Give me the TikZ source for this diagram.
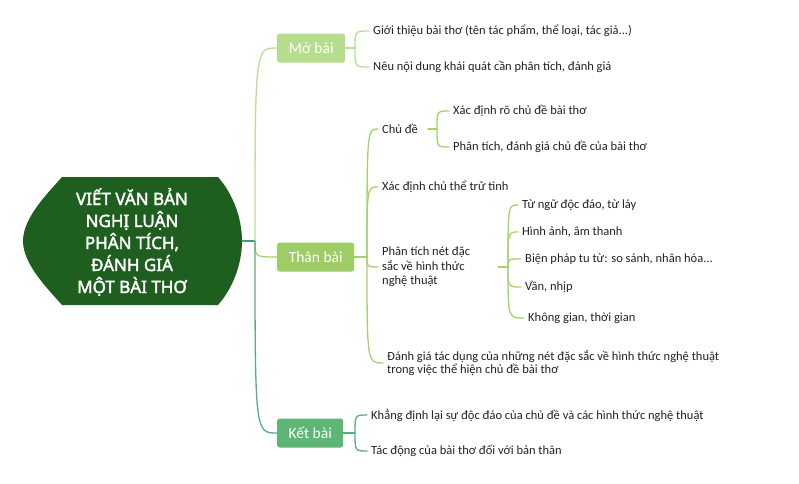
\documentclass[tikz,border=0pt]{standalone}
\usepackage{fontspec}
\setmainfont{Carlito}
\newfontfamily\rootfont[AutoFakeBold=2.2]{Noto Sans}
\definecolor{rootc}{HTML}{1E5E1E}
\definecolor{moc}{HTML}{B5DD8C}
\definecolor{thanc}{HTML}{9ECD66}
\definecolor{ketc}{HTML}{5DB675}
\definecolor{mol}{HTML}{B9DF92}
\definecolor{thanl}{HTML}{A6D26E}
\definecolor{ketl}{HTML}{5AAE78}
\definecolor{stemc}{HTML}{3E9B8A}
\definecolor{txt}{HTML}{222222}
\begin{document}
\begin{tikzpicture}[x=1pt,y=-1pt,
  leaf/.style={font=\fontsize{12.5}{14.5}\selectfont, anchor=west, inner xsep=4pt, inner ysep=1pt, align=left, text=txt},
  boxn/.style={rounded corners=2.5pt, text=white, font=\fontsize{15.5}{18}\selectfont, minimum height=29pt, anchor=west, inner sep=0pt},
  conn/.style={line width=1.3pt, line cap=round}]
\useasboundingbox (0,0) rectangle (799,483);
\fill[white] (0,0) rectangle (799,483);
% root shape
\fill[rootc] (62,177) -- (218,177)
   .. controls (233,194) and (242,218) .. (242,241)
   .. controls (242,264) and (233,288) .. (218,305)
   -- (62,305)
   .. controls (47,288) and (23,264) .. (23,241)
   .. controls (23,218) and (47,194) .. (62,177) -- cycle;
\node[text=white, font=\rootfont\bfseries\fontsize{17}{22}\selectfont, align=center] (root) at (132,242)
  {VIẾT VĂN BẢN\\NGHỊ LUẬN\\PHÂN TÍCH,\\ĐÁNH GIÁ\\MỘT BÀI THƠ};
\coordinate (rootE) at (242,241);
\coordinate (jr) at (255,241);
% main boxes
\node[boxn, fill=moc, minimum width=68pt] (mo) at (277,48) {Mở bài};
\node[boxn, fill=thanc, minimum width=77pt] (than) at (277,257) {Thân bài};
\node[boxn, fill=ketc, minimum width=66pt] (ket) at (277,433) {Kết bài};
% junctions
\coordinate (jm) at (355,48);
\coordinate (jt) at (367,257);
\coordinate (jk) at (355,433);
\coordinate (cs) at (428,129);
\coordinate (jc) at (437,129);
\coordinate (ps) at (498,267);
\coordinate (jp) at (508,267);
% leaves
\node[leaf] (m1) at (369,31) {Giới thiệu bài thơ (tên tác phẩm, thể loại, tác giả...)};
\node[leaf] (m2) at (369,67) {Nêu nội dung khái quát cần phân tích, đánh giá};
\node[leaf] (t1) at (378,129) {Chủ đề};
\node[leaf] (t2) at (378,187) {Xác định chủ thể trữ tình};
\node[leaf] (t3) at (378,267) {Phân tích nét đặc\\sắc về hình thức\\nghệ thuật};
\node[leaf, font=\fontsize{12.5}{13.5}\selectfont] (t4) at (383,363) {Đánh giá tác dụng của những nét đặc sắc về hình thức nghệ thuật\\trong việc thể hiện chủ đề bài thơ};
\node[leaf] (c1) at (449,111) {Xác định rõ chủ đề bài thơ};
\node[leaf] (c2) at (449,147) {Phân tích, đánh giá chủ đề của bài thơ};
\node[leaf] (p1) at (518,205) {Từ ngữ độc đáo, từ láy};
\node[leaf] (p2) at (518,232) {Hình ảnh, âm thanh};
\node[leaf] (p3) at (521,259) {Biện pháp tu từ: so sánh, nhân hóa...};
\node[leaf] (p4) at (521,287) {Vần, nhịp};
\node[leaf] (p5) at (524,318) {Không gian, thời gian};
\node[leaf] (k1) at (367,415) {Khẳng định lại sự độc đáo của chủ đề và các hình thức nghệ thuật};
\node[leaf] (k2) at (367,451) {Tác động của bài thơ đối với bản thân};
% connectors root
\draw[conn, stemc] (rootE) -- (jr);
\draw[conn, mol] (jr) .. controls (jr |- mo.west) .. (mo.west);
\draw[conn, thanl] (jr) .. controls (jr |- than.west) .. (than.west);
\draw[conn, ketl] (jr) .. controls (jr |- ket.west) .. (ket.west);
% Mo bai
\draw[conn, mol] (mo.east) -- (jm);
\draw[conn, mol] (jm) .. controls (jm |- m1.west) .. (m1.west);
\draw[conn, mol] (jm) .. controls (jm |- m2.west) .. (m2.west);
% Than bai
\draw[conn, thanl] (than.east) -- (jt);
\foreach \n in {t1,t2,t3,t4}
  \draw[conn, thanl] (jt) .. controls (jt |- \n.west) .. (\n.west);
\draw[conn, thanl] (cs) -- (jc);
\foreach \n in {c1,c2}
  \draw[conn, thanl] (jc) .. controls (jc |- \n.west) .. (\n.west);
\draw[conn, thanl] (ps) -- (jp);
\foreach \n in {p1,p2,p3,p4,p5}
  \draw[conn, thanl] (jp) .. controls (jp |- \n.west) .. (\n.west);
% Ket bai
\draw[conn, ketl] (ket.east) -- (jk);
\foreach \n in {k1,k2}
  \draw[conn, ketl] (jk) .. controls (jk |- \n.west) .. (\n.west);
\end{tikzpicture}
\end{document}
